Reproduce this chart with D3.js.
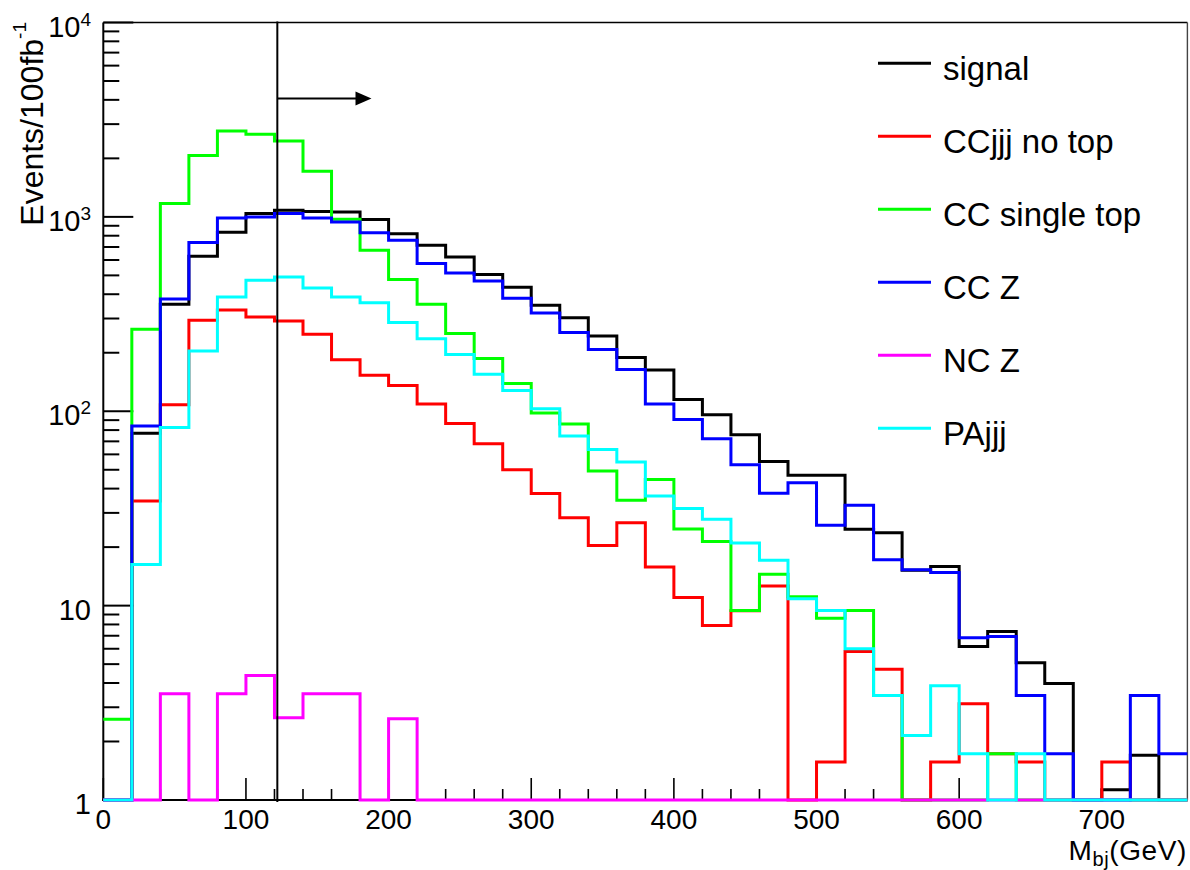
<!DOCTYPE html>
<html><head><meta charset="utf-8">
<script src="https://cdn.jsdelivr.net/npm/d3@7"></script>
<style>
body{margin:0;background:#fff}
svg{display:block}
text{font-family:"Liberation Sans", Arial, Helvetica, sans-serif;fill:#000}
</style>
</head><body><svg id="c" width="1190" height="870"></svg>
<script>
// ---- data ----
const binLow = [0,20,40,60,80,100,120,140,160,180,200,220,240,260,280,300,320,340,360,380,
                400,420,440,460,480,500,520,540,560,580,600,620,640,660,680,700,720,740];
const binWidth = 20;
const seriesNames = ["signal","CCjjj no top","CC single top","CC Z","NC Z","PAjjj"];
const seriesColors = ["#000000","#ff0000","#00ff00","#0000ff","#ff00ff","#00ffff"];

const signal = [0,77,355,627,834,1041,1083,1065,1060,970,820,714,622,505,434,351,303,244,189,163,
                115,96,75.8,55.2,46.8,46.8,24.7,23.7,15.2,15.9,6.17,7.37,5.08,3.97,0,1.13,1.7,0];
const ccjjjNoTop = [0,34.5,108,294,332,305,291,249,184,153,135.6,109,86.4,68,50,37.7,28.3,20.4,26.7,15.8,
                    11.0,7.9,9.4,12.6,0,1.57,5.8,4.7,0,1.57,3.13,1.73,1.57,0,0,1.57,0,0];
const ccSingleTop = [2.6,264,1170,2067,2767,2661,2460,1718,972,673,476,355,251,187,139,98,86,49.3,34.8,44.5,
                     24.8,21.4,9.45,14.5,11.1,8.6,9.45,3.45,0,0,0,1.73,0,0,0,0,0,0];
const ccZ = [0,84,378,738,987,1000,1041,987,942,829,759,575,514,468,381,320,254,208,164,109,
             90.6,72.3,53.1,37.9,42.9,25.9,32.8,17.2,15.3,14.8,6.84,6.94,3.45,1.73,0,0,3.45,1.73];
const ncZ = [0,0,3.52,0,3.52,4.37,2.65,3.52,3.52,0,2.62,0,0,0,0,0,0,0,0,0,
             0,0,0,0,0,0,0,0,0,0,0,0,0,0,0,0,0,0];
const paJjj = [0,16.3,82.4,204,387,472,491,431,387,362,286,236,196,155,128,103,74.5,63.5,54.8,36.6,
               31.6,27.8,21,17.1,10.85,9.45,6.0,3.45,2.15,3.87,1.73,0,1.73,0,0,0,0,0];
const seriesValues = [signal, ccjjjNoTop, ccSingleTop, ccZ, ncZ, paJjj];

const xTickValues = [0,100,200,300,400,500,600,700];
const yTickValues = [1,10,100,1000,10000];
const yTickBase = ["1","10","10","10","10"];
const yTickExp  = ["","","2","3","4"];
const cutValue = 122, arrowEnd = 188, arrowLevel = 4070;

// ---- layout ----
const m = {left:103.3, right:1187.4, top:22.5, bottom:800};
const x = d3.scaleLinear().domain([0,760]).range([m.left,m.right]);
const y = d3.scaleLog().domain([1,1e4]).range([m.bottom,m.top]);
const yv = v => y(Math.max(v,1));
const svg = d3.select("#c");

// frame
svg.append("line").attr("x1",m.left).attr("x2",m.right).attr("y1",m.top).attr("y2",m.top)
  .attr("stroke","#000").attr("stroke-width",1.6);
svg.append("line").attr("x1",m.right).attr("x2",m.right).attr("y1",m.top).attr("y2",m.bottom)
  .attr("stroke","#444").attr("stroke-width",1.4);
svg.append("line").attr("x1",m.left).attr("x2",m.left).attr("y1",m.top).attr("y2",m.bottom+1)
  .attr("stroke","#000").attr("stroke-width",2);
svg.append("line").attr("x1",m.left-1).attr("x2",m.right).attr("y1",m.bottom).attr("y2",m.bottom)
  .attr("stroke","#000").attr("stroke-width",2);

// y ticks
const yMinor = [];
[1,10,100,1000].forEach(d=>{for(let k=2;k<=9;k++) yMinor.push(d*k);});
svg.append("g").selectAll("line").data(yMinor).join("line")
  .attr("x1",m.left).attr("x2",m.left+16).attr("y1",d=>y(d)).attr("y2",d=>y(d))
  .attr("stroke","#000").attr("stroke-width",2);
svg.append("g").selectAll("line").data(yTickValues).join("line")
  .attr("x1",m.left).attr("x2",m.left+30).attr("y1",d=>y(d)).attr("y2",d=>y(d))
  .attr("stroke","#000").attr("stroke-width",2);
const yl = svg.append("g").selectAll("text").data(yTickValues).join("text")
  .attr("x",91).attr("y",d=>y(d)+14).attr("text-anchor","end").style("font-size","29px");
yl.each(function(d,i){
  const t = d3.select(this);
  t.append("tspan").text(yTickBase[i]);
  if (yTickExp[i]) t.append("tspan").attr("dy",-11).style("font-size","19px").text(yTickExp[i]);
});

// x ticks
const xMinor = [];
for (let v=20; v<760; v+=20) if (v%100) xMinor.push(v);
svg.append("g").selectAll("line").data(xMinor).join("line")
  .attr("x1",d=>x(d)).attr("x2",d=>x(d)).attr("y1",m.bottom).attr("y2",m.bottom-11)
  .attr("stroke","#000").attr("stroke-width",1.6);
svg.append("g").selectAll("line").data(xTickValues).join("line")
  .attr("x1",d=>x(d)).attr("x2",d=>x(d)).attr("y1",m.bottom).attr("y2",m.bottom-22)
  .attr("stroke","#000").attr("stroke-width",1.6);
svg.append("g").selectAll("text").data(xTickValues).join("text")
  .attr("x",d=>x(d)).attr("y",828.5).attr("text-anchor","middle").style("font-size","28px")
  .text(d=>d);

// histograms
const hist = svg.append("g").attr("fill","none").attr("stroke-width",3).attr("stroke-linejoin","miter");
seriesValues.forEach((vals,si)=>{
  const pts = [];
  vals.forEach((v,i)=>{
    pts.push([x(binLow[i]), yv(v)]);
    pts.push([x(binLow[i]+binWidth), yv(v)]);
  });
  hist.append("path").attr("d", d3.line()(pts)).attr("stroke", seriesColors[si]);
});

// cut line and arrow
svg.append("line").attr("x1",x(cutValue)).attr("x2",x(cutValue)).attr("y1",m.top-1).attr("y2",m.bottom+2)
  .attr("stroke","#000").attr("stroke-width",2);
const ay = y(arrowLevel), ax0 = x(cutValue), ax1 = x(arrowEnd);
svg.append("line").attr("x1",ax0).attr("x2",ax1-14).attr("y1",ay).attr("y2",ay)
  .attr("stroke","#000").attr("stroke-width",2);
svg.append("path").attr("d",`M${ax1},${ay}L${ax1-16},${ay-7}L${ax1-16},${ay+7}Z`).attr("fill","#000");

// legend
const legY0 = 63.3, legDy = 73;
const leg = svg.append("g");
seriesNames.forEach((n,i)=>{
  const ly = legY0 + i*legDy;
  leg.append("line").attr("x1",878).attr("x2",931).attr("y1",ly).attr("y2",ly)
    .attr("stroke",seriesColors[i]).attr("stroke-width",3);
  leg.append("text").attr("x",943).attr("y",ly+16.5).style("font-size","33px").text(n);
});

// axis titles
const yt = svg.append("text").attr("transform","translate(43,22) rotate(-90)")
  .attr("text-anchor","end").style("font-size","32px");
yt.append("tspan").text("Events/100fb");
yt.append("tspan").attr("dy",-17).style("font-size","19px").text("-1");

const xt = svg.append("text").attr("x",1187).attr("y",860).attr("text-anchor","end")
  .style("font-size","28px").style("letter-spacing","0.6px");
xt.append("tspan").text("M");
xt.append("tspan").attr("dy",6).style("font-size","20px").text("bj");
xt.append("tspan").attr("dy",-6).text("(GeV)");
</script>
</body></html>
